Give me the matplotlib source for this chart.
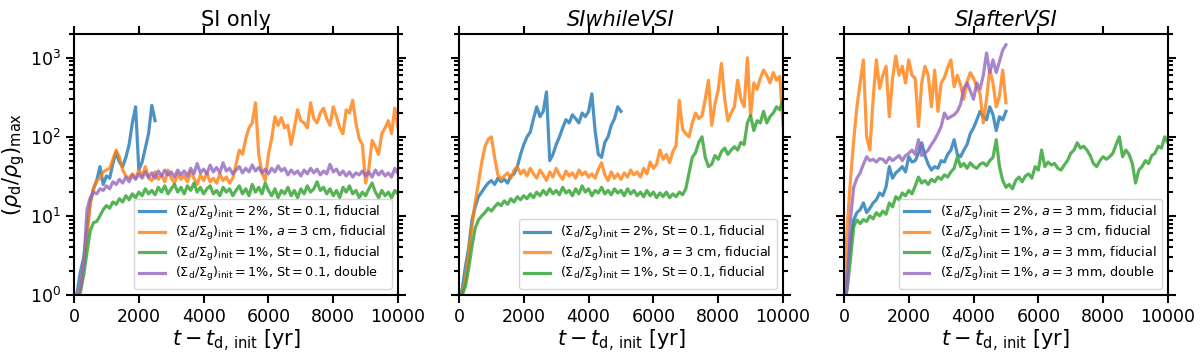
import matplotlib
matplotlib.use("Agg")
import matplotlib.pyplot as plt
import numpy as np

# time grid of the read-off values (yr), one value every 100 yr
t_full = np.arange(0, 10001, 100)
t_half = np.arange(0, 5001, 100)
t_si_blue = np.arange(0, 2501, 100)

# ---- SI only ----
si_blue = [0.8, 1.1, 2.0, 3.0, 6.5, 15, 22, 28, 42, 25, 32, 30, 46, 64, 48, 42,
           55, 80, 150, 240, 38, 48, 72, 110, 250, 160]
si_orange = [0.8, 0.9, 1.3, 2.5, 6, 14, 22, 28, 30, 36, 38,
             40, 52, 68, 55, 38, 32, 30, 34, 30, 38,
             32, 42, 30, 28, 36, 29, 33, 27, 38, 30,
             26, 34, 29, 32, 27, 36, 30, 25, 33, 28,
             35, 27, 30, 26, 34, 28, 31, 26, 30, 45,
             68, 60, 95, 130, 150, 270, 60, 35, 28, 60,
             95, 180, 140, 175, 130, 140, 80, 130, 220, 160,
             150, 130, 270, 170, 150, 200, 230, 170, 140, 240,
             180, 130, 110, 220, 200, 290, 150, 95, 80, 26,
             40, 90, 75, 60, 110, 130, 160, 110, 230, 130]
si_green = [0.8, 0.85, 1.1, 1.8, 3.5, 6.5, 8.2, 8.5, 10, 12, 13.5,
            12.5, 15, 14, 16.5, 15, 18, 16, 19, 17, 20,
            18, 22, 19, 21, 18.5, 23, 20, 24, 19, 22,
            25, 20, 23, 19, 24, 21, 26, 20, 23, 19,
            22, 24, 19, 21, 18, 23, 20, 22, 18, 21,
            24, 19, 22, 18, 25, 20, 23, 19, 26, 21,
            18, 22, 17, 21, 19, 23, 18, 21, 17, 22,
            19, 24, 20, 22, 27, 21, 23, 19, 22, 18,
            21, 17, 23, 20, 24, 19, 21, 17, 20, 18,
            22, 26, 20, 17, 21, 18, 20, 17, 21, 19]
si_purple = [0.8, 0.85, 1.2, 2.5, 12, 17, 20, 19, 22, 21, 24,
             22, 27, 25, 29, 26, 31, 27, 33, 29, 34,
             30, 36, 31, 35, 30, 37, 32, 38, 33, 36,
             31, 38, 33, 37, 32, 40, 34, 46, 35, 39,
             34, 44, 36, 41, 35, 47, 37, 40, 34, 38,
             42, 35, 40, 36, 44, 37, 41, 35, 39, 34,
             40, 36, 43, 37, 40, 33, 38, 34, 37, 32,
             38, 34, 40, 35, 39, 33, 37, 34, 45, 36,
             39, 33, 37, 32, 36, 31, 35, 33, 37, 32,
             36, 31, 38, 33, 37, 32, 35, 31, 40, 34]

# ---- SIwhileVSI ----
wh_blue = [0.8, 1.2, 2.3, 4, 8.9, 13, 17.5, 20, 23, 26, 28,
           25, 30, 27, 29, 26, 32, 34, 42, 60, 80,
           100, 115, 170, 240, 180, 210, 370, 50, 60, 80,
           100, 130, 165, 150, 190, 170, 150, 200, 180, 210,
           350, 120, 60, 55, 85, 100, 140, 170, 240, 210]
wh_orange = [0.8, 1.0, 1.6, 3.5, 7.3, 15, 26, 47, 75, 93, 100,
             55, 33, 29, 32, 35, 30, 38, 42, 34, 38,
             32, 40, 34, 30, 38, 33, 28, 36, 31, 40,
             33, 29, 37, 32, 35, 30, 38, 33, 36, 31,
             34, 30, 39, 47, 33, 28, 36, 30, 34, 29,
             35, 31, 38, 33, 36, 31, 40, 34, 48, 40,
             45, 68, 52, 60, 47, 65, 78, 290, 125, 110,
             100, 150, 200, 170, 185, 300, 520, 140, 260, 390,
             850, 300, 160, 200, 240, 520, 300, 240, 1000, 185,
             480, 400, 550, 700, 600, 480, 650, 520, 580, 140]
wh_green = [0.8, 1.0, 1.3, 2.2, 4.1, 7, 8.9, 10, 11, 12.5, 11.5,
            13, 14.5, 13.5, 15.5, 14, 16.5, 15, 17.5, 16, 18,
            16.5, 19, 17, 20, 18, 21, 18.5, 22, 19, 21,
            18.5, 23, 19.5, 21, 18, 22, 19, 24, 20, 22,
            18, 21, 19.5, 23, 19, 21, 18.5, 22, 19.5, 21,
            18, 22, 19, 21, 18, 20, 17.5, 21, 18, 20,
            17, 19.5, 17.5, 20, 17, 19, 17.5, 20, 18.5, 22,
            35, 55, 63, 85, 100, 55, 42, 45, 58, 52,
            65, 72, 60, 68, 75, 68, 85, 80, 150, 185,
            120, 160, 150, 210, 150, 180, 200, 240, 220, 300]

# ---- SIafterVSI ----
af_blue = [0.8, 1.9, 5, 8.9, 11, 12, 14.6, 11, 12.5, 14.6, 16,
           19.5, 18, 23.4, 42, 30, 35, 38, 42, 36, 56,
           48, 50, 62, 84, 58, 45, 38, 42, 40, 50,
           48, 60, 68, 92, 60, 56, 68, 80, 110, 130,
           164, 210, 180, 164, 240, 190, 120, 180, 164, 210]
af_orange = [1.0, 7.3, 28, 90, 240, 480, 940, 100, 68, 300, 940,
             410, 600, 780, 180, 550, 1050, 600, 780, 480, 940,
             600, 550, 135, 480, 780, 600, 240, 700, 210, 480,
             560, 750, 940, 430, 600, 450, 300, 500, 650, 550,
             430, 350, 150, 300, 700, 480, 240, 330, 700, 270]
af_green = [0.8, 1.2, 2.8, 7.3, 8.9, 8, 9, 8.5, 10, 9.2, 11,
            10, 11.5, 10.5, 14.6, 13, 17.5, 16, 19.5, 18, 21,
            19, 24, 31, 26, 28, 25, 29, 27, 31, 29,
            33, 31, 36, 40, 56, 42, 46, 40, 47, 42,
            40, 45, 47, 43, 50, 55, 92, 42, 28, 23,
            25, 22, 28, 31, 27, 32, 34, 30, 42, 38,
            68, 42, 48, 44, 46, 40, 38, 44, 50, 62,
            68, 84, 72, 76, 68, 58, 46, 42, 50, 56,
            52, 56, 62, 80, 100, 56, 68, 60, 46, 26,
            38, 42, 50, 46, 58, 62, 76, 72, 100, 84]
af_purple = [0.8, 1.2, 8.9, 23, 30, 35, 45, 56, 50, 52, 48,
             53, 52, 47, 55, 50, 54, 58, 50, 58, 62,
             68, 60, 92, 58, 62, 68, 80, 92, 110, 135,
             200, 170, 180, 190, 210, 260, 410, 480, 380, 300,
             480, 400, 600, 1150, 650, 940, 650, 900, 1250, 1460]

lab_si = [r'$(\Sigma_\mathrm{d}/\Sigma_\mathrm{g})_\mathrm{init}=2\%$, $\mathrm{St}=0.1$, fiducial',
          r'$(\Sigma_\mathrm{d}/\Sigma_\mathrm{g})_\mathrm{init}=1\%$, $a=3$ cm, fiducial',
          r'$(\Sigma_\mathrm{d}/\Sigma_\mathrm{g})_\mathrm{init}=1\%$, $\mathrm{St}=0.1$, fiducial',
          r'$(\Sigma_\mathrm{d}/\Sigma_\mathrm{g})_\mathrm{init}=1\%$, $\mathrm{St}=0.1$, double']
lab_af = [r'$(\Sigma_\mathrm{d}/\Sigma_\mathrm{g})_\mathrm{init}=2\%$, $a=3$ mm, fiducial',
          r'$(\Sigma_\mathrm{d}/\Sigma_\mathrm{g})_\mathrm{init}=1\%$, $a=3$ cm, fiducial',
          r'$(\Sigma_\mathrm{d}/\Sigma_\mathrm{g})_\mathrm{init}=1\%$, $a=3$ mm, fiducial',
          r'$(\Sigma_\mathrm{d}/\Sigma_\mathrm{g})_\mathrm{init}=1\%$, $a=3$ mm, double']

cols = ['tab:blue', 'tab:orange', 'tab:green', 'tab:purple']

panels = [
    ('SI only', 'normal',
     [(t_si_blue, si_blue), (t_full, si_orange), (t_full, si_green), (t_full, si_purple)], lab_si),
    ('SIwhileVSI', 'italic',
     [(t_half, wh_blue), (t_full, wh_orange), (t_full, wh_green)], lab_si[:3]),
    ('SIafterVSI', 'italic',
     [(t_half, af_blue), (t_half, af_orange), (t_full, af_green), (t_half, af_purple)], lab_af),
]

fig = plt.figure(figsize=(12, 3.52), dpi=100)
lefts = [0.0617, 0.3825, 0.7033]

for i, (title, style, series, labels) in enumerate(panels):
    ax = fig.add_axes([lefts[i], 0.162, 0.27, 0.7415])
    for (tt, vv), c, lab in zip(series, cols, labels):
        ax.plot(tt, vv, color=c, lw=2.3, alpha=0.8, label=lab)
    ax.set_yscale('log')
    ax.set_xlim(0, 10000)
    ax.set_ylim(1, 2000)
    ax.set_xticks([0, 2000, 4000, 6000, 8000, 10000])
    ax.set_title(title, fontsize=15, fontstyle=style)
    ax.set_xlabel(r'$t-t_\mathrm{d,\,init}$ [yr]', fontsize=15, labelpad=1)
    if i == 0:
        ax.set_ylabel(r'$(\rho_\mathrm{d}/\rho_\mathrm{g})_\mathrm{max}$', fontsize=15, labelpad=2)
    else:
        ax.tick_params(axis='y', which='both', labelleft=False)
    ax.tick_params(which='both', direction='out', top=True, right=True, labelsize=12.5, width=1.5)
    ax.tick_params(which='major', length=6)
    ax.tick_params(which='minor', length=3.5)
    for sp in ax.spines.values():
        sp.set_linewidth(1.5)
    ax.legend(loc='lower right', fontsize=9.2, labelspacing=0.2)

fig.savefig('out.png', dpi=100)
